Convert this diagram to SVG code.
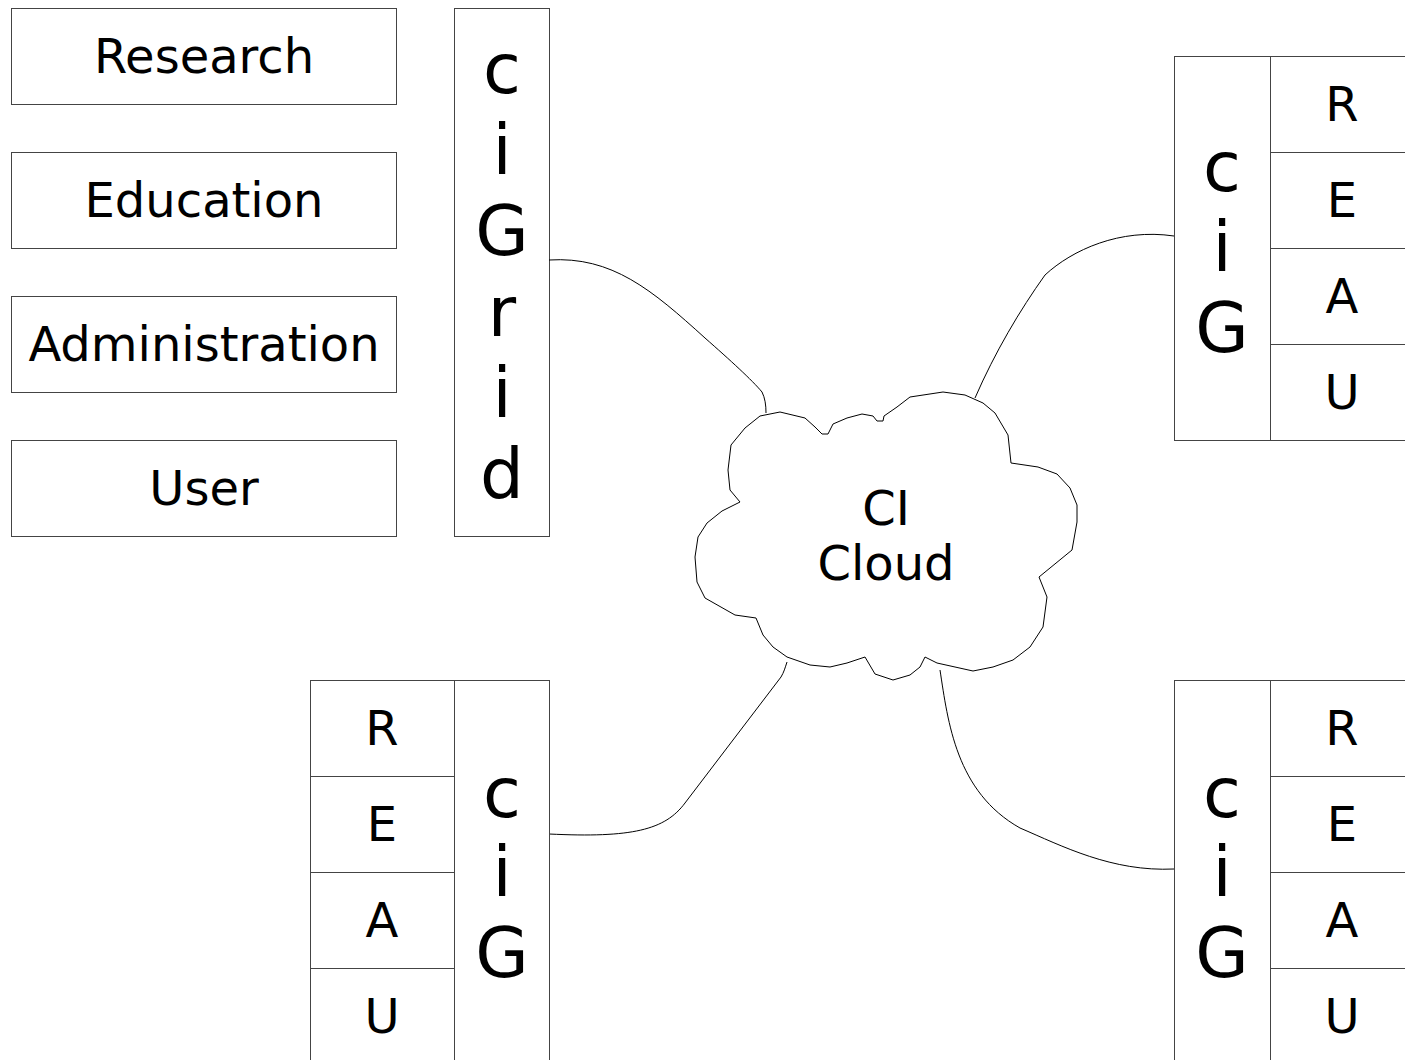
<svg xmlns="http://www.w3.org/2000/svg" width="1405" height="1060" viewBox="0 0 1405 1060">
<style>
.box{fill:#fff;stroke:#444;stroke-width:1}
.lbl{font-family:"DejaVu Sans",sans-serif;fill:#000;text-anchor:middle}
.big{font-size:48px}
.huge{font-size:69px}
.cell{font-size:48px}
.conn{fill:none;stroke:#000;stroke-width:1}
</style>
<rect width="1405" height="1060" fill="#fff"/>
<g id="research"><rect class="box" x="11.5" y="8.5" width="385" height="96"/><text class="lbl big" x="204" y="73">Research</text></g>
<g id="education"><rect class="box" x="11.5" y="152.5" width="385" height="96"/><text class="lbl big" x="204" y="217">Education</text></g>
<g id="administration"><rect class="box" x="11.5" y="296.5" width="385" height="96"/><text class="lbl big" x="204" y="361">Administration</text></g>
<g id="user"><rect class="box" x="11.5" y="440.5" width="385" height="96"/><text class="lbl big" x="204" y="505">User</text></g>
<g id="cigrid"><rect class="box" x="454.5" y="8.5" width="95" height="528"/>
<text class="lbl huge" x="502" y="93">c</text><text class="lbl huge" x="502" y="174">i</text><text class="lbl huge" x="502" y="255">G</text><text class="lbl huge" x="502" y="336">r</text><text class="lbl huge" x="502" y="417">i</text><text class="lbl huge" x="502" y="498">d</text></g>

<g id="connectors">
<path class="conn" d="M549,260 C612,256 652,290 705,338 C730,360 752,380 762,392 C765,398 766,405 766,413"/>
<path class="conn" d="M1174,236 C1120,228 1072,250 1045,275 C1020,310 995,352 975,398"/>
<path class="conn" d="M787,662 C785,668 784,672 781,677 L685,803 C665,830 632,838 549,834"/>
<path class="conn" d="M940,670 C948,722 956,792 1020,828 C1062,846 1112,872 1174,869"/>
</g>

<g id="cloud">
<path fill="#fff" stroke="#000" stroke-width="1" d="M760,416 L780,412 L805,418 L815,427 L822,434 L828,434 L833,424 L847,418 L862,414 L873,416 L877,421 L883,421 L884,416 L897,407 L910,397 L943,392 L965,395 L983,403 L995,413 L1008,435 L1011,463 L1038,467 L1057,474 L1070,488 L1077,505 L1077,522 L1072,550 L1039,577 L1047,597 L1043,627 L1030,647 L1013,660 L993,667 L973,671 L955,667 L937,663 L925,657 L920,667 L910,675 L893,680 L875,674 L865,657 L847,663 L830,667 L810,665 L787,657 L773,647 L763,635 L756,618 L735,615 L705,598 L697,582 L695,557 L698,537 L707,523 L722,511 L740,502 L730,490 L728,470 L731,445 L745,428 Z"/>
<text class="lbl big" x="886" y="525">CI</text>
<text class="lbl big" x="886" y="580">Cloud</text>
</g>

<g id="cig-topright">
<rect class="box" x="1174.5" y="56.5" width="96" height="384"/>
<text class="lbl huge" x="1222" y="191">c</text><text class="lbl huge" x="1222" y="271">i</text><text class="lbl huge" x="1222" y="352">G</text>
<rect class="box" x="1270.5" y="56.5" width="144" height="96"/><text class="lbl cell" x="1342" y="121">R</text>
<rect class="box" x="1270.5" y="152.5" width="144" height="96"/><text class="lbl cell" x="1342" y="217">E</text>
<rect class="box" x="1270.5" y="248.5" width="144" height="96"/><text class="lbl cell" x="1342" y="313">A</text>
<rect class="box" x="1270.5" y="344.5" width="144" height="96"/><text class="lbl cell" x="1342" y="409">U</text>
</g>

<g id="cig-bottomleft">
<rect class="box" x="310.5" y="680.5" width="144" height="96"/><text class="lbl cell" x="382" y="745">R</text>
<rect class="box" x="310.5" y="776.5" width="144" height="96"/><text class="lbl cell" x="382" y="841">E</text>
<rect class="box" x="310.5" y="872.5" width="144" height="96"/><text class="lbl cell" x="382" y="937">A</text>
<rect class="box" x="310.5" y="968.5" width="144" height="96"/><text class="lbl cell" x="382" y="1033">U</text>
<rect class="box" x="454.5" y="680.5" width="95" height="384"/>
<text class="lbl huge" x="502" y="817">c</text><text class="lbl huge" x="502" y="896">i</text><text class="lbl huge" x="502" y="977">G</text>
</g>

<g id="cig-bottomright">
<rect class="box" x="1174.5" y="680.5" width="96" height="384"/>
<text class="lbl huge" x="1222" y="817">c</text><text class="lbl huge" x="1222" y="896">i</text><text class="lbl huge" x="1222" y="977">G</text>
<rect class="box" x="1270.5" y="680.5" width="144" height="96"/><text class="lbl cell" x="1342" y="745">R</text>
<rect class="box" x="1270.5" y="776.5" width="144" height="96"/><text class="lbl cell" x="1342" y="841">E</text>
<rect class="box" x="1270.5" y="872.5" width="144" height="96"/><text class="lbl cell" x="1342" y="937">A</text>
<rect class="box" x="1270.5" y="968.5" width="144" height="96"/><text class="lbl cell" x="1342" y="1033">U</text>
</g>
</svg>
